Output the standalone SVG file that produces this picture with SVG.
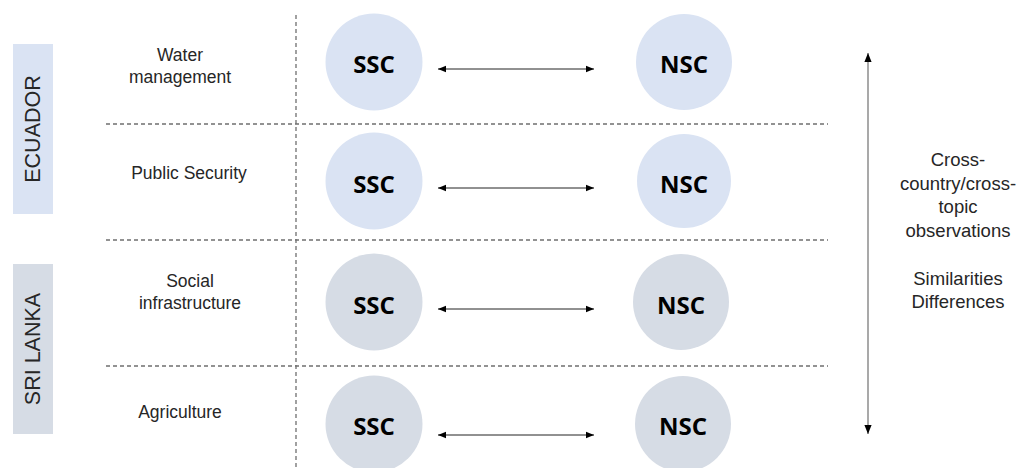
<svg xmlns="http://www.w3.org/2000/svg" width="1018" height="468" viewBox="0 0 1018 468">
<defs>
<style>
.lbl{font-family:"Liberation Sans",Arial,sans-serif;font-size:17.5px;fill:#262626;text-anchor:middle}
.side{font-family:"Liberation Sans",Arial,sans-serif;font-size:18.5px;fill:#262626;text-anchor:middle}
.cty{font-family:"Liberation Sans",Arial,sans-serif;font-size:21.5px;fill:#262626;text-anchor:middle;dominant-baseline:central}
.node{font-family:"Open Sans","Liberation Sans",sans-serif;font-size:24px;font-weight:bold;fill:#000;text-anchor:middle;dominant-baseline:central}
.ec{fill:#dae3f3}
.sl{fill:#d6dce5}
.dash{stroke:#6f6f6f;stroke-width:1.3;stroke-dasharray:4 3;fill:none}
.conn{stroke:#222;stroke-width:1;fill:none}
</style>
<marker id="ah" viewBox="0 0 10 10" refX="10" refY="5" markerWidth="8" markerHeight="8" markerUnits="userSpaceOnUse" orient="auto-start-reverse">
<path d="M0,1 L10,5 L0,9 z" fill="#000"/>
</marker>
<marker id="ah2" viewBox="0 0 10 10" refX="10" refY="5" markerWidth="9" markerHeight="9" markerUnits="userSpaceOnUse" orient="auto-start-reverse">
<path d="M0,1 L10,5 L0,9 z" fill="#000"/>
</marker>
</defs>
<rect width="1018" height="468" fill="#fff"/>

<g id="grid">
<line class="dash" x1="296" y1="15" x2="296" y2="468"/>
<line class="dash" x1="106" y1="124" x2="828" y2="124"/>
<line class="dash" x1="106" y1="240" x2="828" y2="240"/>
<line class="dash" x1="106" y1="366" x2="828" y2="366"/>
</g>

<g id="country-ecuador">
<rect class="ec" x="13" y="44" width="40" height="170"/>
<text class="cty" transform="translate(33,129) rotate(-90)">ECUADOR</text>
</g>
<g id="country-srilanka">
<rect class="sl" x="13" y="264" width="40" height="170"/>
<text class="cty" transform="translate(33,349) rotate(-90)">SRI LANKA</text>
</g>

<g id="topic-water">
<text class="lbl" x="180" y="61">Water</text>
<text class="lbl" x="180" y="83">management</text>
</g>
<g id="topic-security">
<text class="lbl" x="189" y="179">Public Security</text>
</g>
<g id="topic-social">
<text class="lbl" x="190" y="287">Social</text>
<text class="lbl" x="190" y="309">infrastructure</text>
</g>
<g id="topic-agri">
<text class="lbl" x="180" y="418">Agriculture</text>
</g>

<g id="ssc1"><circle class="ec" cx="374" cy="62" r="48.5"/><text class="node" x="374" y="63">SSC</text></g>
<g id="nsc1"><circle class="ec" cx="684" cy="62" r="48"/><text class="node" x="684" y="63">NSC</text></g>
<g id="ssc2"><circle class="ec" cx="374" cy="181" r="48.5"/><text class="node" x="374" y="183">SSC</text></g>
<g id="nsc2"><circle class="ec" cx="684" cy="181" r="47"/><text class="node" x="684" y="183">NSC</text></g>
<g id="ssc3"><circle class="sl" cx="374" cy="302" r="48.5"/><text class="node" x="374" y="304">SSC</text></g>
<g id="nsc3"><circle class="sl" cx="681" cy="302" r="48"/><text class="node" x="681" y="304">NSC</text></g>
<g id="ssc4"><circle class="sl" cx="374" cy="424" r="48.5"/><text class="node" x="374" y="425">SSC</text></g>
<g id="nsc4"><circle class="sl" cx="683" cy="424" r="48"/><text class="node" x="683" y="425">NSC</text></g>

<g id="connectors">
<line class="conn" x1="438" y1="69" x2="594" y2="69" marker-start="url(#ah)" marker-end="url(#ah)"/>
<line class="conn" x1="438" y1="188" x2="594" y2="188" marker-start="url(#ah)" marker-end="url(#ah)"/>
<line class="conn" x1="438" y1="309" x2="594" y2="309" marker-start="url(#ah)" marker-end="url(#ah)"/>
<line class="conn" x1="438" y1="435" x2="594" y2="435" marker-start="url(#ah)" marker-end="url(#ah)"/>
<line x1="868" y1="53" x2="868" y2="434" stroke="#a0a0a0" stroke-width="1.8" marker-start="url(#ah2)" marker-end="url(#ah2)"/>
</g>

<g id="observations">
<text class="side" x="958" y="166">Cross-</text>
<text class="side" x="958" y="189.5">country/cross-</text>
<text class="side" x="958" y="213">topic</text>
<text class="side" x="958" y="236.5">observations</text>
<text class="side" x="958" y="284.5">Similarities</text>
<text class="side" x="958" y="308">Differences</text>
</g>
</svg>
